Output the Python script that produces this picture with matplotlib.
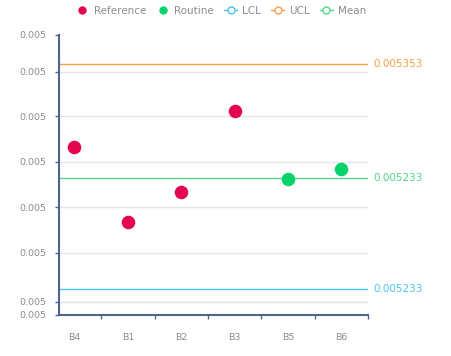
import matplotlib.pyplot as plt
from matplotlib.lines import Line2D

batches = ['B4', 'B1', 'B2', 'B3', 'B5', 'B6']
kinds = ['Reference', 'Reference', 'Reference', 'Reference', 'Routine', 'Routine']
values = [0.005266, 0.005186, 0.005218, 0.005304, 0.005232, 0.005242]

ucl = 0.005353
mean = 0.005233
lcl = 0.005115
limit_labels = ['0.005353', '0.005233', '0.005233']

y_ticks = [0.005088, 0.005102, 0.005154, 0.005202, 0.005250, 0.005298, 0.005345, 0.005384]

c_ref = '#e3064f'
c_rout = '#04d36a'
c_lcl = '#4cc3ec'
c_ucl = '#f7a046'
c_mean = '#4fd98a'
axis_col = '#53618f'
txt_col = '#8c8c8c'

fig = plt.figure(figsize=(4.51, 3.56), dpi=100)
ax = fig.add_axes([0.1308, 0.1152, 0.816 - 0.1308, 0.9017 - 0.1152])

xs = list(range(len(batches)))
ax.set_xlim(-0.29, 5.5)
ax.set_ylim(y_ticks[0], y_ticks[-1])

# grid lines (internal ticks only)
for t in y_ticks[1:-1]:
    ax.axhline(t, color='#e4e4ec', lw=1, zorder=0)

ax.axhline(ucl, color=c_ucl, lw=1, zorder=1)
ax.axhline(mean, color=c_mean, lw=1, zorder=1)
ax.axhline(lcl, color=c_lcl, lw=1, zorder=1)

for x, v, k in zip(xs, values, kinds):
    ax.scatter(x, v, s=95, color=c_ref if k == 'Reference' else c_rout, zorder=3, linewidths=0)

for v, lab, c in zip([ucl, mean, lcl], limit_labels, [c_ucl, c_mean, c_lcl]):
    ax.annotate(lab, xy=(1, v), xycoords=('axes fraction', 'data'), xytext=(4, 0),
                textcoords='offset points', va='center', ha='left', color=c, fontsize=7.5)

ax.set_yticks(y_ticks)
ax.set_yticklabels(['%.3f' % t for t in y_ticks])
ax.set_xticks(xs)
ax.set_xticklabels(batches)
ax.set_xticks([i + 0.5 for i in xs], minor=True)
ax.tick_params(axis='x', which='major', length=0, pad=13, labelsize=6.8, labelcolor=txt_col)
ax.tick_params(axis='x', which='minor', length=3, width=1, color=axis_col, direction='out')
ax.tick_params(axis='y', length=3, width=1, color=axis_col, pad=6, labelsize=6.8, labelcolor=txt_col)

for s in ['top', 'right']:
    ax.spines[s].set_visible(False)
for s in ['left', 'bottom']:
    ax.spines[s].set_color(axis_col)
    ax.spines[s].set_linewidth(1.5)

handles = [
    Line2D([], [], marker='o', ls='none', color=c_ref, markersize=5),
    Line2D([], [], marker='o', ls='none', color=c_rout, markersize=5),
    Line2D([], [], marker='o', color=c_lcl, markerfacecolor='white', markersize=5, lw=1),
    Line2D([], [], marker='o', color=c_ucl, markerfacecolor='white', markersize=5, lw=1),
    Line2D([], [], marker='o', color=c_mean, markerfacecolor='white', markersize=5, lw=1),
]
fig.legend(handles, ['Reference', 'Routine', 'LCL', 'UCL', 'Mean'], loc='center',
           bbox_to_anchor=(0.49, 0.97), ncol=5, frameon=False, fontsize=7.5,
           labelcolor=txt_col, handlelength=1.2, handletextpad=0.5, columnspacing=1.0)

fig.savefig('out.png', dpi=100)
